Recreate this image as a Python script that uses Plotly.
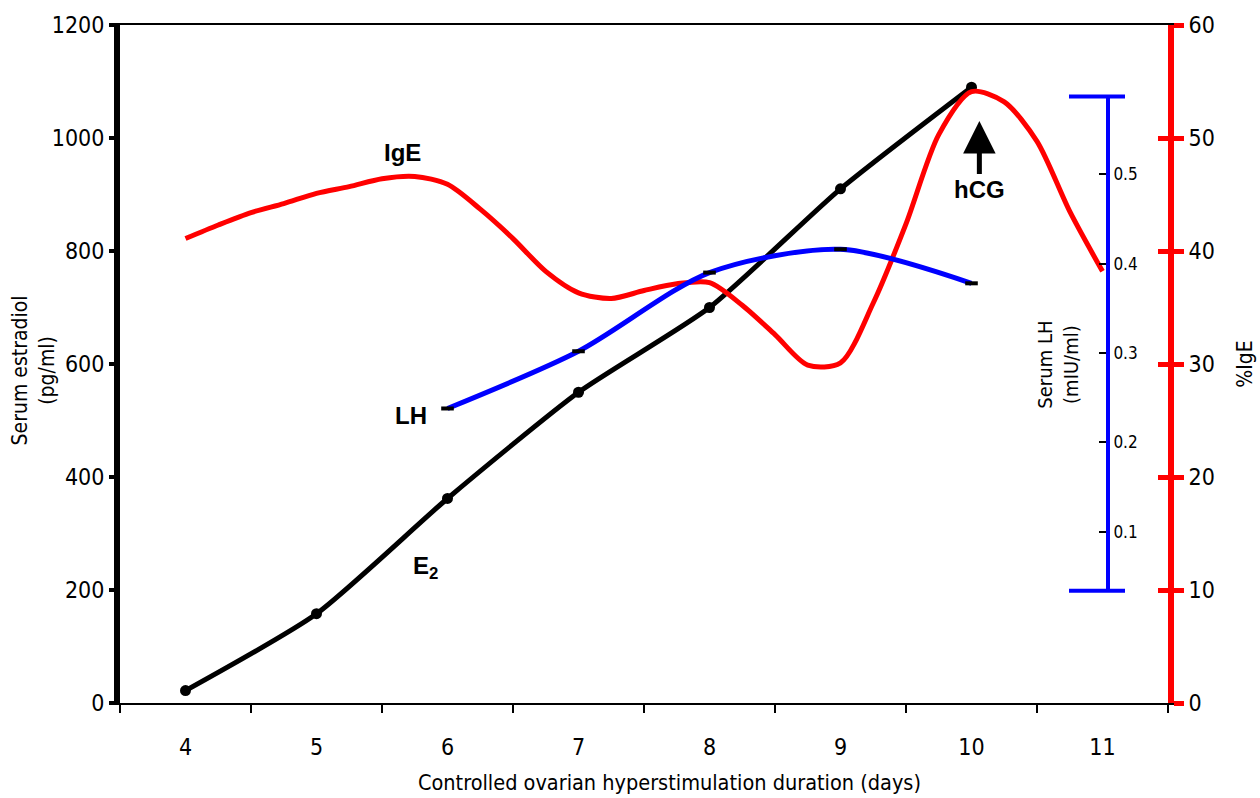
import plotly.graph_objects as go

# ---- data ----
days = [4, 5, 6, 7, 8, 9, 10, 11]
e2_days = [4, 5, 6, 7, 8, 9, 10]
e2_values = [22, 158, 362, 550, 700, 910, 1090]

lh_days = [6, 7, 8, 9, 10]
lh_values = [0.238, 0.302, 0.390, 0.416, 0.378]

ige_days = [4.0, 4.25, 4.5, 4.75, 5.0, 5.25, 5.5, 5.75, 6.0, 6.25, 6.5, 6.75, 7.0,
            7.25, 7.5, 7.75, 8.0, 8.25, 8.5, 8.75, 9.0, 9.25, 9.5, 9.75, 10.0,
            10.25, 10.5, 10.75, 11.0]
ige_values = [41.1, 42.3, 43.4, 44.2, 45.1, 45.7, 46.4, 46.6, 45.9, 43.7, 41.1, 38.2, 36.3,
              35.8, 36.5, 37.1, 37.2, 35.2, 32.6, 29.9, 30.1, 35.4, 42.4, 50.3, 54.1,
              53.2, 49.7, 43.5, 38.2]

e2_ticks = [0, 200, 400, 600, 800, 1000, 1200]
ige_ticks = [0, 10, 20, 30, 40, 50, 60]
lh_ticks = [0.1, 0.2, 0.3, 0.4, 0.5]

FONT = "DejaVu Sans Condensed, DejaVu Sans, sans-serif"
BOLD = "Liberation Sans, Arial, sans-serif"

fig = go.Figure()

fig.add_trace(go.Scatter(
    x=ige_days, y=ige_values, yaxis="y2", mode="lines",
    line=dict(color="#ff0000", width=5, shape="spline", smoothing=0.8),
    showlegend=False, hoverinfo="skip"))

fig.add_trace(go.Scatter(
    x=lh_days, y=lh_values, yaxis="y3", mode="lines+markers",
    line=dict(color="#0000ff", width=5, shape="spline", smoothing=0.8),
    marker=dict(symbol="line-ew", size=9, line=dict(color="black", width=4)),
    showlegend=False, hoverinfo="skip"))

fig.add_trace(go.Scatter(
    x=e2_days, y=e2_values, yaxis="y", mode="lines+markers",
    line=dict(color="black", width=5, shape="spline", smoothing=0.6),
    marker=dict(color="black", size=11),
    showlegend=False, hoverinfo="skip"))

minor_vals = [d - 0.5 for d in days] + [days[-1] + 0.5]

fig.update_layout(
    width=1260, height=798,
    margin=dict(l=120, r=92, t=20, b=95),
    paper_bgcolor="white", plot_bgcolor="rgba(0,0,0,0)",
    font=dict(family=FONT, size=23, color="black"),
    xaxis=dict(
        range=[3.5, 11.5], tickmode="array", tickvals=days,
        ticktext=[str(d) for d in days], ticks="", showgrid=False, zeroline=False,
        showline=True, linecolor="black", linewidth=2, mirror=True,
        ticklabelstandoff=22,
        minor=dict(tickmode="array", tickvals=minor_vals, ticks="outside",
                   ticklen=8, tickwidth=2, tickcolor="black", showgrid=False),
    ),
    yaxis=dict(
        range=[0, 1200], tickmode="array", tickvals=e2_ticks,
        showgrid=False, zeroline=False, showline=True, linecolor="black",
        linewidth=6, ticks="outside", ticklen=5, tickwidth=4, tickcolor="black",
    ),
    yaxis2=dict(
        range=[0, 60], tickmode="array", tickvals=ige_ticks, overlaying="y",
        side="right", anchor="x", showgrid=False, zeroline=False, showline=True,
        linecolor="#ff0000", linewidth=6, ticks="outside", ticklen=10,
        tickwidth=5, tickcolor="#ff0000",
    ),
    yaxis4=dict(
        range=[0, 60], tickmode="array", tickvals=ige_ticks, overlaying="y",
        side="right", anchor="x", showgrid=False, zeroline=False, showline=False,
        ticks="inside", ticklen=10, tickwidth=5, tickcolor="#ff0000",
        showticklabels=False,
    ),
    yaxis3=dict(
        range=[0.034, 0.587], domain=[0.1654, 0.8946], tickmode="array",
        tickvals=lh_ticks, ticktext=[f"{v:.1f}" for v in lh_ticks],
        side="right", anchor="free", position=(1108 - 120) / 1048,
        showgrid=False, zeroline=False, showline=True, linecolor="#0000ff",
        linewidth=4, ticks="inside", ticklen=7, tickwidth=2, tickcolor="black",
        tickfont=dict(size=17),
    ),
)

# empty trace so yaxis4 (inner half of red ticks) renders
fig.add_trace(go.Scatter(x=[None], y=[None], yaxis="y4", showlegend=False,
                         hoverinfo="skip"))

# blue axis caps
for yv in [0, 1]:
    fig.add_shape(type="line", xref="paper", yref="y3 domain",
                  x0=(1069 - 120) / 1048, x1=(1125 - 120) / 1048, y0=yv, y1=yv,
                  line=dict(color="#0000ff", width=4))

ann = [
    dict(text="Serum estradiol<br>(pg/ml)", x=-0.083, y=0.4905, textangle=-90,
         font=dict(size=21)),
    dict(text="%IgE", x=1.0735, y=0.499, textangle=-90, font=dict(size=21)),
    dict(text="Serum LH<br>(mIU/ml)", x=0.895, y=0.499, textangle=-90,
         font=dict(size=20)),
    dict(text="Controlled ovarian hyperstimulation duration (days)", x=0.5239,
         y=-0.117, font=dict(size=21.5)),
]
for a in ann:
    fig.add_annotation(xref="paper", yref="paper", showarrow=False,
                       xanchor="center", yanchor="middle", **a)

labels = [
    dict(text="<b>IgE</b>", x=5.657, y=975),
    dict(text="<b>LH</b>", x=5.725, y=509),
    dict(text="<b>E<sub>2</sub></b>", x=5.83, y=240),
]
for a in labels:
    fig.add_annotation(xref="x", yref="y", showarrow=False,
                       font=dict(family=BOLD, size=24, color="black"), **a)

fig.add_annotation(xref="x", yref="y", x=10.06, y=1030, ax=0, ay=68,
                   text="<b>hCG</b>", showarrow=True, arrowhead=2,
                   arrowsize=1.3, arrowwidth=5, arrowcolor="black",
                   font=dict(family=BOLD, size=24, color="black"))

fig.write_html("out.html", config={"displayModeBar": False},
               post_script="document.body.style.margin='0px';"
                           "document.body.style.padding='0px';")
